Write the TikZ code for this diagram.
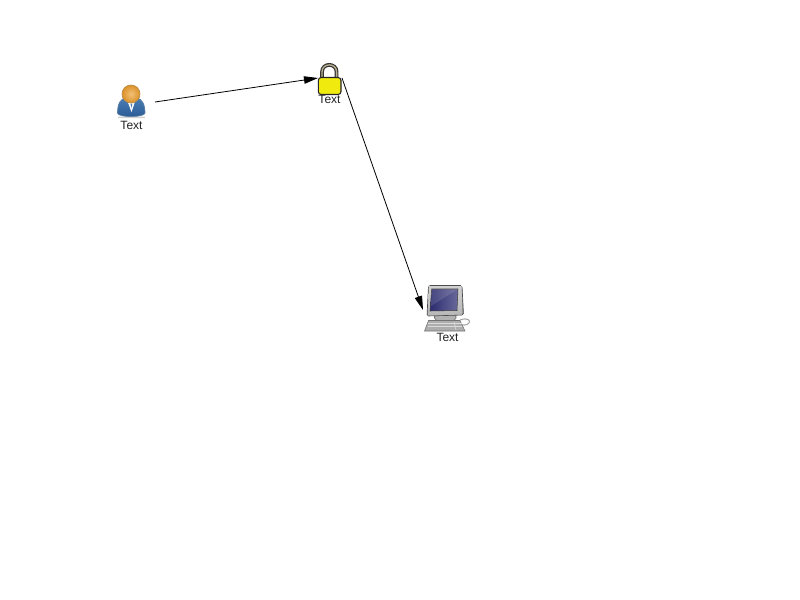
\documentclass[tikz,border=0pt]{standalone}
\usepackage{fontspec}
\setmainfont{Liberation Sans}
\usetikzlibrary{arrows.meta}
\definecolor{txt}{HTML}{222222}
\definecolor{bodyA}{HTML}{4A7DB5}
\definecolor{bodyB}{HTML}{2A5A94}
\definecolor{bodyEdge}{HTML}{5F7F9F}
\definecolor{headA}{HTML}{F2C078}
\definecolor{headB}{HTML}{DC9228}
\definecolor{headEdge}{HTML}{B98A45}
\definecolor{lockfill}{HTML}{F0EA0E}
\definecolor{shackle}{HTML}{B8B090}
\definecolor{screenA}{HTML}{2C2C70}
\definecolor{screenB}{HTML}{6A6A9C}
\tikzset{
  anchorbox/.style={minimum width=#1*0.75pt,minimum height=36pt,inner sep=0pt,outer sep=0pt},
  lbl/.style={font=\fontsize{9pt}{10pt}\selectfont,text=txt,inner sep=0pt},
  conn/.style={draw=black,line width=0.6pt,-{Triangle[length=10.5pt,width=5.6pt]}},
}
\begin{document}
\begin{tikzpicture}[x=0.75pt,y=-0.75pt]
\useasboundingbox (0,0) rectangle (800,600);
\fill[white] (0,0) rectangle (800,600);
\node[anchorbox=48] (user) at (131,102) {};
\node[anchorbox=24] (lock) at (330,78) {};
\node[anchorbox=48] (pc) at (447,310) {};
\draw[conn] (user.east) -- (lock.west);
\draw[conn] (lock.east) -- (pc.west);
% labels
\node[lbl] (userlabel) at (131.5,125) {Text};
\node[lbl] (locklabel) at (329.5,99) {Text};
\node[lbl] (pclabel) at (447.5,337) {Text};
% user icon
\fill[black!18] (118,116.5) -- (144.5,116.5) -- (145,118) -- (118,118) -- cycle;
\shade[top color=bodyA,bottom color=bodyB,draw=bodyEdge,line width=0.5pt]
  (117.5,113) .. controls (117.5,103) and (121,99) .. (125,98)
  -- (137,98) .. controls (142,99) and (145,104) .. (145,113)
  .. controls (145,117.5) and (118,118) .. (117.5,113) -- cycle;
\fill[white] (127,100) -- (135.5,100) -- (131.5,112) -- cycle;
\fill[bodyA] (130.4,103.5) -- (132.4,103.5) -- (131.4,108) -- cycle;
\shade[inner color=headA,outer color=headB,draw=headEdge,line width=0.5pt] (131,94) circle[radius=9];
% lock icon
\draw[black!80,line width=2.8pt] (322,79) -- (322,72) .. controls (322,62.5) and (336.6,62.5) .. (336.6,72) -- (336.6,79);
\draw[shackle,line width=1pt] (322,79) -- (322,72) .. controls (322,62.5) and (336.6,62.5) .. (336.6,72) -- (336.6,79);
\fill[lockfill,draw=black!85,line width=0.8pt,rounded corners=2.2pt] (318.3,77.5) rectangle (341,94.5);
% pc icon
\draw[black!35,line width=0.8pt] (460,320) .. controls (468,317) and (471,321) .. (469,323) .. controls (467,326) and (462,325) .. (458,324);
\fill[black!30,draw=black!55,line width=0.4pt,rounded corners=2.5pt] (434.5,314) rectangle (456,320.5);
\fill[black!32,draw=black!55,line width=0.4pt] (428.5,320.5) -- (460,320.5) -- (465,331) -- (424.5,331) -- cycle;
\foreach \yy in {323.5,326.5}{\draw[black!14,line width=0.5pt] (428,\yy) -- (461.5,\yy);}
\draw[black!14,line width=0.5pt] (454,322) -- (456,330);
\fill[black!40,draw=black!70,line width=0.5pt,rounded corners=1.2pt] (428.5,285.5) -- (462,285.5) -- (463.5,315) -- (427,316) -- cycle;
\shade[top color=black!18,bottom color=black!28] (429,286) -- (461.5,286) -- (462.5,314.5) -- (428,315.5) -- cycle;
\shade[left color=screenA,right color=screenB,draw=black!75,line width=0.4pt] (431.7,289) -- (458,289) -- (457,310.5) -- (430,311) -- cycle;
\fill[white,opacity=0.12] (431.7,289) -- (458,289) -- (431,306) -- cycle;
\end{tikzpicture}
\end{document}
